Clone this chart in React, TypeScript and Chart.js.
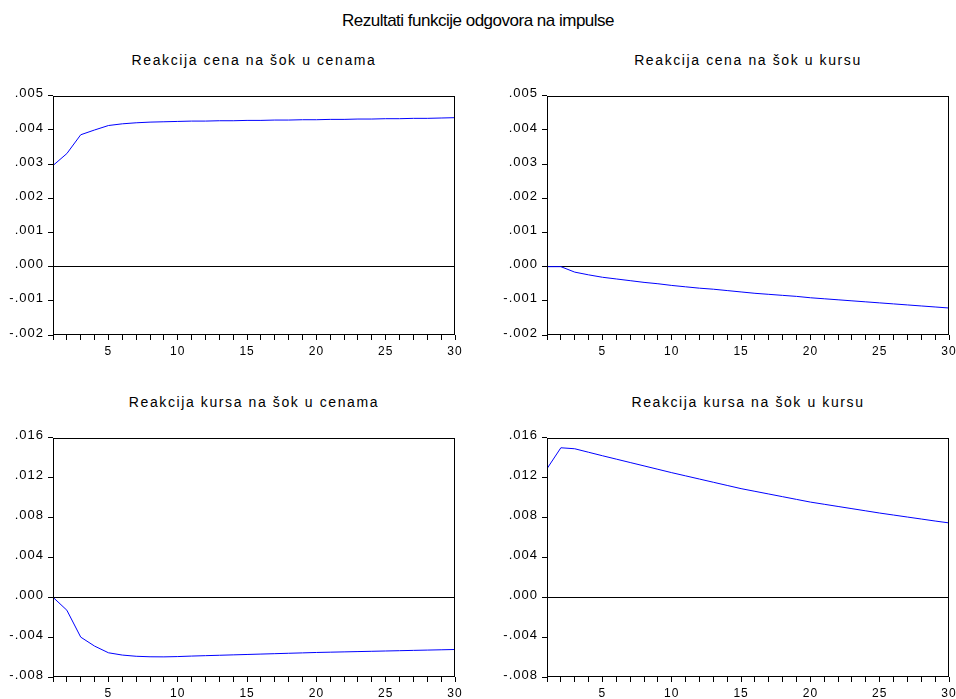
import React, { useEffect, useRef } from "react";
import { Chart, registerables } from "chart.js";

Chart.register(...registerables);

// ---- Data ----
const periods = [1, 2, 3, 4, 5, 6, 7, 8, 9, 10, 11, 12, 13, 14, 15, 16, 17, 18, 19, 20, 21, 22, 23, 24, 25, 26, 27, 28, 29, 30];
const xLabelValues = [5, 10, 15, 20, 25, 30];

const cenaNaCene = [0.00296, 0.00331, 0.00386, 0.004, 0.00413, 0.00418, 0.00421, 0.00423, 0.00424, 0.00425, 0.00426, 0.00426, 0.00427, 0.00427, 0.00428, 0.00428, 0.00429, 0.00429, 0.0043, 0.0043, 0.00431, 0.00431, 0.00432, 0.00432, 0.00433, 0.00433, 0.00434, 0.00434, 0.00435, 0.00436];
const cenaNaKurs = [0, 0, -0.00016, -0.00024, -0.00031, -0.00036, -0.00041, -0.00046, -0.0005, -0.00055, -0.00059, -0.00063, -0.00066, -0.0007, -0.00074, -0.00078, -0.00081, -0.00084, -0.00087, -0.00091, -0.00094, -0.00097, -0.001, -0.00103, -0.00106, -0.00109, -0.00112, -0.00115, -0.00118, -0.00121];
const kursNaCene = [0, -0.0013, -0.004, -0.0049, -0.00557, -0.0058, -0.00592, -0.00597, -0.00598, -0.00595, -0.0059, -0.00586, -0.00582, -0.00578, -0.00574, -0.0057, -0.00566, -0.00562, -0.00558, -0.00554, -0.00551, -0.00548, -0.00545, -0.00542, -0.00539, -0.00536, -0.00533, -0.0053, -0.00527, -0.00524];
const kursNaKurs = [0.0129, 0.015, 0.0149, 0.01455, 0.0142, 0.01386, 0.01352, 0.01318, 0.01284, 0.0125, 0.01218, 0.01186, 0.01154, 0.01122, 0.0109, 0.01063, 0.01036, 0.01009, 0.00982, 0.00955, 0.00933, 0.00911, 0.00889, 0.00867, 0.00845, 0.00825, 0.00805, 0.00785, 0.00765, 0.00746];

const topRowTicks = [-0.002, -0.001, 0, 0.001, 0.002, 0.003, 0.004, 0.005];
const bottomRowTicks = [-0.008, -0.004, 0, 0.004, 0.008, 0.012, 0.016];

const mainTitle = "Rezultati funkcije odgovora na impulse";
const titles = [
  "Reakcija cena na šok u cenama",
  "Reakcija cena na šok u kursu",
  "Reakcija kursa na šok u cenama",
  "Reakcija kursa na šok u kursu",
];

const FONT = "'Liberation Sans', Arial, Helvetica, sans-serif";

function fmtY(v: number): string {
  const s = Math.abs(v).toFixed(3).replace(/^0/, "");
  return v < -1e-12 ? "-" + s : s;
}

const framePlugin = {
  id: "frame",
  beforeDraw(chart: any) {
    try {
      chart.ctx.letterSpacing = "1px";
    } catch (e) {}
  },
  afterDraw(chart: any) {
    const { ctx, chartArea } = chart;
    const l = Math.round(chartArea.left) + 0.5;
    const t = Math.round(chartArea.top) + 0.5;
    const r = Math.round(chartArea.right) - 0.5;
    const b = Math.round(chartArea.bottom) - 0.5;
    ctx.save();
    ctx.strokeStyle = "#000";
    ctx.lineWidth = 1;
    ctx.strokeRect(l, t, r - l, b - t);
    ctx.restore();
  },
};

type PanelProps = {
  left: number;
  top: number;
  width: number;
  height: number;
  plotLeft: number;
  plotTop: number;
  plotRight: number;
  plotBottom: number;
  values: number[];
  yTicks: number[];
};

function Panel(p: PanelProps) {
  const ref = useRef<HTMLCanvasElement | null>(null);
  useEffect(() => {
    if (!ref.current) return;
    const yWidth = p.plotLeft - p.left;
    const padTop = p.plotTop - p.top;
    const padRight = p.left + p.width - p.plotRight;
    const xHeight = p.top + p.height - p.plotBottom;
    const chart = new Chart(ref.current, {
      type: "line",
      data: {
        datasets: [
          {
            data: periods.map((x, i) => ({ x, y: p.values[i] })),
            borderColor: "#0000ff",
            borderWidth: 1,
            pointRadius: 0,
            tension: 0,
            fill: false,
          },
        ],
      },
      options: {
        responsive: false,
        animation: false,
        events: [],
        layout: { padding: { left: 0, top: padTop, right: padRight, bottom: 0 } },
        plugins: { legend: { display: false }, tooltip: { enabled: false }, title: { display: false } },
        scales: {
          x: {
            type: "linear",
            min: 1,
            max: 30,
            afterBuildTicks: (s: any) => {
              s.ticks = periods.map((v) => ({ value: v }));
            },
            afterFit: (s: any) => {
              s.height = xHeight;
            },
            border: { display: false },
            grid: {
              drawOnChartArea: false,
              drawTicks: true,
              tickLength: 5,
              tickColor: "#000",
              color: "#000",
            },
            ticks: {
              autoSkip: false,
              maxRotation: 0,
              minRotation: 0,
              padding: 4,
              color: "#000",
              font: { family: FONT, size: 12 },
              callback: (v: any) => (xLabelValues.includes(Number(v)) ? String(v) : ""),
            },
          },
          y: {
            type: "linear",
            min: p.yTicks[0],
            max: p.yTicks[p.yTicks.length - 1],
            afterBuildTicks: (s: any) => {
              s.ticks = p.yTicks.map((v) => ({ value: v }));
            },
            afterFit: (s: any) => {
              s.width = yWidth;
            },
            border: { display: false },
            grid: {
              drawOnChartArea: true,
              drawTicks: true,
              tickLength: 5,
              tickColor: "#000",
              color: (c: any) => (c.tick && Math.abs(c.tick.value) < 1e-12 ? "#000" : "rgba(0,0,0,0)"),
            },
            ticks: {
              padding: 4,
              labelOffset: -2,
              color: "#000",
              font: { family: FONT, size: 13 },
              callback: (v: any) => fmtY(Number(v)),
            },
          },
        },
      },
      plugins: [framePlugin],
    } as any);
    return () => chart.destroy();
  }, []);
  return (
    <canvas
      ref={ref}
      width={p.width}
      height={p.height}
      style={{ position: "absolute", left: p.left, top: p.top, width: p.width, height: p.height }}
    />
  );
}

function SubTitle({ text, left, right, top }: { text: string; left: number; right: number; top: number }) {
  return (
    <div
      style={{
        position: "absolute",
        left,
        width: right - left,
        top,
        textAlign: "center",
        fontFamily: FONT,
        fontSize: 14,
        lineHeight: "14px",
        letterSpacing: "1.6px",
        whiteSpace: "nowrap",
        color: "#000",
      }}
    >
      {text}
    </div>
  );
}

export default function App() {
  const row1 = { top: 84, height: 276, plotTop: 94, plotBottom: 335 };
  const row2 = { top: 426, height: 280, plotTop: 436, plotBottom: 677 };
  const col1 = { left: 0, width: 478, plotLeft: 53, plotRight: 455 };
  const col2 = { left: 478, width: 490, plotLeft: 547, plotRight: 949 };
  return (
    <div
      style={{
        position: "absolute",
        left: 0,
        top: 0,
        width: 956,
        height: 699,
        overflow: "hidden",
        background: "#fff",
      }}
    >
      <div
        style={{
          position: "absolute",
          left: 0,
          width: 956,
          top: 11.6,
          textAlign: "center",
          fontFamily: FONT,
          fontSize: 17,
          lineHeight: "17px",
          letterSpacing: "-0.5px",
          whiteSpace: "nowrap",
          color: "#000",
        }}
      >
        {mainTitle}
      </div>
      <SubTitle text={titles[0]} left={col1.plotLeft} right={col1.plotRight} top={52.5} />
      <SubTitle text={titles[1]} left={col2.plotLeft} right={col2.plotRight} top={52.5} />
      <SubTitle text={titles[2]} left={col1.plotLeft} right={col1.plotRight} top={394.5} />
      <SubTitle text={titles[3]} left={col2.plotLeft} right={col2.plotRight} top={394.5} />
      <Panel {...row1} {...col1} values={cenaNaCene} yTicks={topRowTicks} />
      <Panel {...row1} {...col2} values={cenaNaKurs} yTicks={topRowTicks} />
      <Panel {...row2} {...col1} values={kursNaCene} yTicks={bottomRowTicks} />
      <Panel {...row2} {...col2} values={kursNaKurs} yTicks={bottomRowTicks} />
    </div>
  );
}
